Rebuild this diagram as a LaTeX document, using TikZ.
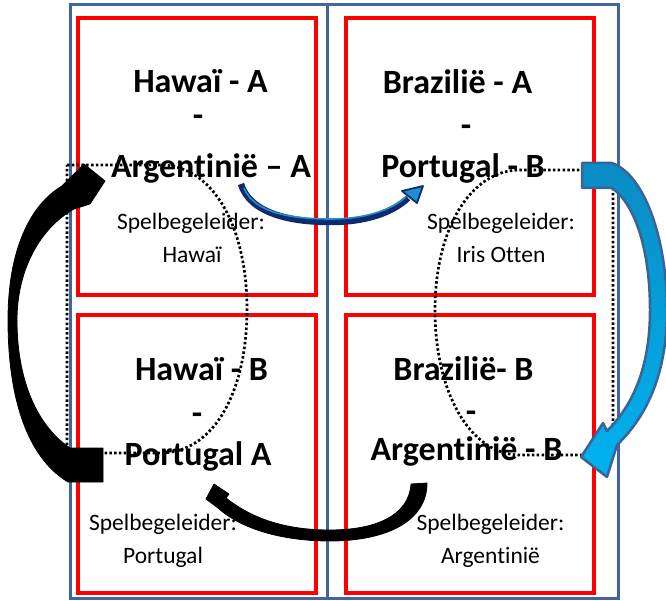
\documentclass[tikz,border=0pt]{standalone}
\usepackage{fontspec}
\setmainfont{Carlito}[Ligatures=NoCommon]
\usetikzlibrary{shadings}
\definecolor{frameblue}{HTML}{41669B}
\definecolor{boxred}{HTML}{FF0000}
\definecolor{navyarrow}{HTML}{0F2A6E}
\definecolor{innerblue}{HTML}{1E90D0}
\definecolor{arrowedge}{HTML}{3B6495}
\definecolor{cyantop}{HTML}{0A8CC4}
\definecolor{cyanbot}{HTML}{00B2F0}
\begin{document}
\begin{tikzpicture}[x=1pt,y=-1pt,
  big/.style={font=\fontsize{34}{40}\selectfont\bfseries, anchor=base, inner sep=0pt},
  small/.style={font=\fontsize{23.5}{28}\selectfont, anchor=base, inner sep=0pt},
  frame/.style={draw=frameblue, line width=3pt},
  redbox/.style={draw=boxred, line width=4pt},
  dotline/.style={draw=black, line width=2.7pt, dash pattern=on 2.5pt off 2.3pt},
  blackarrow/.style={fill=black, draw=black, line width=0.8pt, line join=round}]
\useasboundingbox (0,0) rectangle (666,601);
% outer frame
\draw[frame] (70,5) rectangle (618,598);
\draw[frame] (327,5) -- (327,598);
% red boxes
\draw[redbox] (78,18) rectangle (316,295);
\draw[redbox] (346,18) rectangle (594,295);
\draw[redbox] (78,315) rectangle (316,593);
\draw[redbox] (346,315) rectangle (594,593);
% texts top-left
\node[big] (tlA) at (200.5,93) {Hawaï - A};
\node[big] (tlB) at (198,127) {-};
\node[big] (tlC) at (211,178) {Argentinië – A};
\node[small] (tlD) at (191,230) {Spelbegeleider:};
\node[small] (tlE) at (192,263) {Hawaï};
% texts top-right
\node[big] (trA) at (457.5,94) {Brazilië - A};
\node[big] (trB) at (466,137) {-};
\node[big] (trC) at (463,178) {Portugal - B};
\node[small] (trD) at (501,230) {Spelbegeleider:};
\node[small] (trE) at (501,263) {Iris Otten};
% texts bottom-left
\node[big] (blA) at (201.5,380) {Hawaï - B};
\node[big] (blB) at (197,424) {-};
\node[big] (blC) at (198,465) {Portugal A};
\node[small] (blD) at (163,530) {Spelbegeleider:};
\node[small] (blE) at (163,563) {Portugal};
% texts bottom-right
\node[big] (brA) at (463.5,380) {Brazilië- B};
\node[big] (brB) at (471,422) {-};
\node[big] (brC) at (466.5,460) {Argentinië - B};
\node[small] (brD) at (490.5,530) {Spelbegeleider:};
\node[small] (brE) at (490.5,563) {Argentinië};
% dotted D shapes
\draw[dotline] (67,165) -- (160,165) .. controls (215,165) and (247,230) .. (247,309)
  .. controls (247,390) and (215,453) .. (160,453) -- (67,453) -- cycle;
\draw[dotline] (613,170) -- (520,170) .. controls (470,170) and (435,230) .. (435,310)
  .. controls (435,392) and (470,455) .. (520,455) -- (613,455) -- cycle;
% left black curved arrow
\filldraw[blackarrow] (105,181) -- (90,204) -- (74,209)
  .. controls (40,228) and (17,270) .. (17,320)
  .. controls (17,385) and (40,428) .. (70,448) -- (103,448) -- (103,482) -- (68,482)
  .. controls (28,458) and (8,400) .. (8,320)
  .. controls (8,250) and (30,205) .. (62,186) -- (84,164) -- cycle;
% bottom black curved arrow
\filldraw[blackarrow] (214,484) -- (229,494) -- (226,498)
  .. controls (255,521) and (290,530) .. (330,530)
  .. controls (375,530) and (409,516) .. (411,484) -- (427,483)
  .. controls (427,522) and (385,541) .. (330,541)
  .. controls (280,541) and (240,528) .. (218,508) -- (206,499) -- cycle;
% top blue curved arrow
\draw[navyarrow, line width=6.5pt] (241,184) .. controls (250,214) and (292,222) .. (330,222)
  .. controls (368,222) and (393,212) .. (408,198);
\draw[innerblue, line width=1.6pt] (244,188) .. controls (254,213) and (292,219) .. (330,219)
  .. controls (366,219) and (391,210) .. (406,197);
\filldraw[draw=navyarrow, fill=innerblue, line width=1.8pt, line join=round]
  (423,186) -- (402,191) -- (417,203) -- cycle;
% right light-blue curved arrow
\shade[top color=cyantop, bottom color=cyanbot, draw=arrowedge, line width=2.5pt, line join=round]
  (582,163) -- (612,163) .. controls (645,175) and (667,240) .. (667,310)
  .. controls (667,372) and (648,415) .. (617,445) -- (607,477) -- (581,457) -- (603,423) -- (607,431)
  .. controls (636,402) and (650,362) .. (650,310)
  .. controls (650,252) and (636,205) .. (612,188) -- (582,188) -- cycle;
\end{tikzpicture}
\end{document}
